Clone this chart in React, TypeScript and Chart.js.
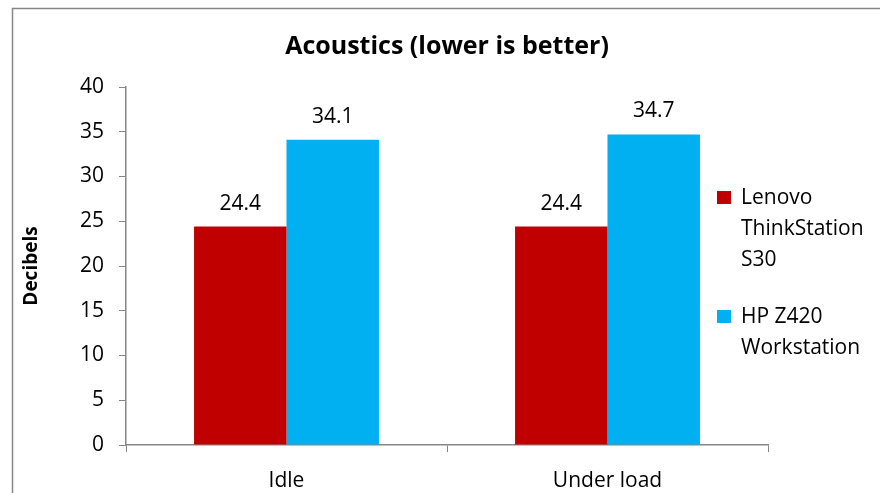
import React, { useEffect, useRef } from 'react';
import { Chart, registerables } from 'chart.js';

Chart.register(...registerables);

const categories = ['Idle', 'Under load'];
const seriesNames = ['Lenovo ThinkStation S30', 'HP Z420 Workstation'];
const lenovoValues = [24.4, 24.4];
const hpValues = [34.1, 34.7];
const seriesColors = ['#C00000', '#00B0F0'];
const chartTitle = 'Acoustics (lower is better)';
const yAxisTitle = 'Decibels';
const yMin = 0;
const yMax = 40;
const yStep = 5;

const FONT = '"Open Sans", "Noto Sans", sans-serif';
const AXIS_COLOR = '#868686';
const TEXT_SIZE = 21;

const framePlugin = {
  id: 'frame',
  beforeDraw(chart: any) {
    const ctx = chart.ctx;
    ctx.save();
    ctx.fillStyle = '#ffffff';
    ctx.fillRect(0, 0, chart.width, chart.height);
    ctx.strokeStyle = AXIS_COLOR;
    ctx.lineWidth = 1.5;
    ctx.strokeRect(12.5, 8.5, chart.width + 20, chart.height + 20);
    ctx.restore();
  },
};

const valueLabelPlugin = {
  id: 'valueLabels',
  afterDatasetsDraw(chart: any) {
    const ctx = chart.ctx;
    ctx.save();
    ctx.font = `${TEXT_SIZE}px ${FONT}`;
    ctx.fillStyle = '#000';
    ctx.textAlign = 'center';
    ctx.textBaseline = 'middle';
    chart.data.datasets.forEach((ds: any, i: number) => {
      const meta = chart.getDatasetMeta(i);
      meta.data.forEach((bar: any, j: number) => {
        const v = ds.data[j];
        ctx.fillText(v.toFixed(1), bar.x, bar.y - 23);
      });
    });
    ctx.restore();
  },
};

function wrapText(ctx: CanvasRenderingContext2D, text: string, maxWidth: number): string[] {
  const words = text.split(' ');
  const lines: string[] = [];
  let cur = '';
  for (const w of words) {
    const test = cur ? cur + ' ' + w : w;
    if (ctx.measureText(test).width > maxWidth && cur) {
      lines.push(cur);
      cur = w;
    } else {
      cur = test;
    }
  }
  if (cur) lines.push(cur);
  return lines;
}

const legendPlugin = {
  id: 'sideLegend',
  afterDraw(chart: any) {
    const ctx = chart.ctx;
    ctx.save();
    ctx.font = `${TEXT_SIZE}px ${FONT}`;
    ctx.textAlign = 'left';
    ctx.textBaseline = 'middle';
    const x = 717;
    let y = 198;
    const lineH = 31;
    chart.data.datasets.forEach((ds: any) => {
      const lines = wrapText(ctx, ds.label, 132);
      ctx.fillStyle = ds.backgroundColor;
      ctx.fillRect(x, y - 7, 14, 13);
      ctx.fillStyle = '#000';
      lines.forEach((ln, k) => {
        ctx.fillText(ln, x + 24, y + k * lineH);
      });
      y += lines.length * lineH + 26;
    });
    ctx.restore();
  },
};

export default function App() {
  const canvasRef = useRef<HTMLCanvasElement | null>(null);

  useEffect(() => {
    if (!canvasRef.current) return;
    const chart = new Chart(canvasRef.current, {
      type: 'bar',
      data: {
        labels: categories,
        datasets: [
          {
            label: seriesNames[0],
            data: lenovoValues,
            backgroundColor: seriesColors[0],
            categoryPercentage: 0.576,
            barPercentage: 1,
          },
          {
            label: seriesNames[1],
            data: hpValues,
            backgroundColor: seriesColors[1],
            categoryPercentage: 0.576,
            barPercentage: 1,
          },
        ],
      },
      options: {
        responsive: false,
        animation: false,
        devicePixelRatio: 1,
        layout: { padding: { left: 0, right: 112, top: 0, bottom: 0 } },
        plugins: {
          legend: { display: false },
          tooltip: { enabled: false },
          title: {
            display: true,
            text: chartTitle,
            fullSize: false,
            color: '#000',
            font: { family: FONT, size: 25, weight: 'bold' },
            padding: { top: 32, bottom: 25 },
          },
        },
        scales: {
          x: {
            grid: {
              drawOnChartArea: false,
              drawTicks: true,
              tickLength: 7,
              color: AXIS_COLOR,
            },
            border: { color: AXIS_COLOR, width: 1.5 },
            ticks: {
              color: '#000',
              font: { family: FONT, size: TEXT_SIZE },
              padding: 16,
            },
            afterFit(scale: any) {
              scale.height = 48;
            },
          },
          y: {
            min: yMin,
            max: yMax,
            grid: {
              drawOnChartArea: false,
              drawTicks: true,
              tickLength: 7,
              color: AXIS_COLOR,
            },
            border: { color: AXIS_COLOR, width: 1.5 },
            ticks: {
              stepSize: yStep,
              color: '#000',
              font: { family: FONT, size: TEXT_SIZE },
              padding: 15,
            },
            title: {
              display: true,
              text: yAxisTitle,
              color: '#000',
              font: { family: FONT, size: 19, weight: 'bold' },
              padding: { top: 20, bottom: 0 },
            },
            afterFit(scale: any) {
              scale.width = 126;
            },
          },
        },
      },
      plugins: [framePlugin, valueLabelPlugin, legendPlugin],
    });
    return () => chart.destroy();
  }, []);

  return (
    <div style={{ position: 'fixed', left: 0, top: 0, width: 880, height: 493, background: '#fff' }}>
      <canvas ref={canvasRef} width={880} height={493} style={{ width: 880, height: 493 }} />
    </div>
  );
}
